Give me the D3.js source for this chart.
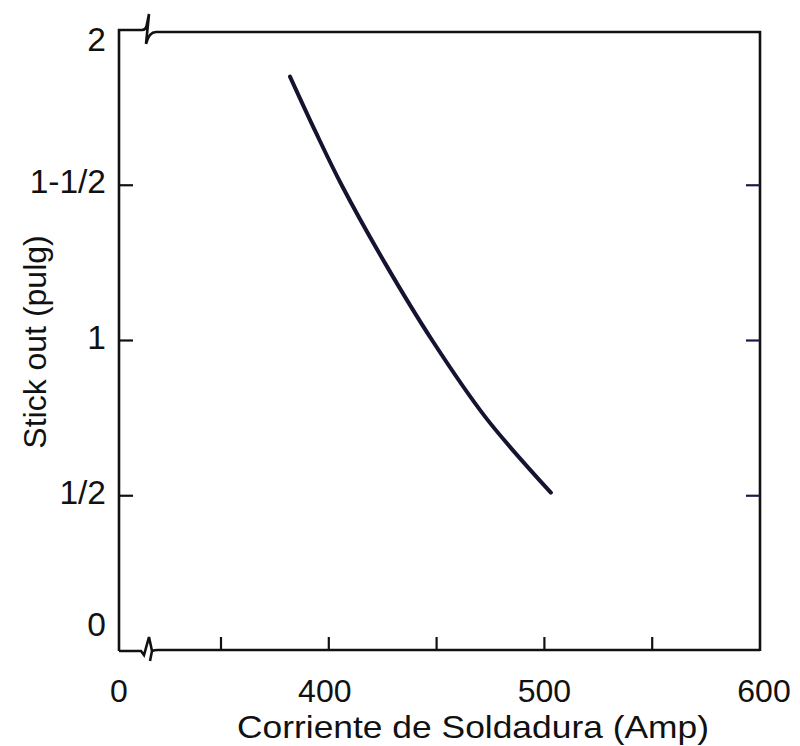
<!DOCTYPE html>
<html><head><meta charset="utf-8">
<script src="https://cdn.jsdelivr.net/npm/d3@7"></script>
<style>body{margin:0;background:#fff}svg{display:block}</style>
</head><body>
<svg id="c" width="800" height="746"></svg>
<script>
// Data
const curveAmp = [382, 394, 406, 426, 448, 473, 503];
const curveStick = [1.85, 1.67, 1.50, 1.25, 1.00, 0.75, 0.51];
const xTickVals = [350, 400, 450, 500, 550];
const xLabelVals = [0, 400, 500, 600];
const xLabelText = ["0", "400", "500", "600"];
const yTickVals = [0.5, 1, 1.5];
const yLabelVals = [0, 0.5, 1, 1.5, 2];
const yLabelText = ["0", "1/2", "1", "1-1/2", "2"];

const svg = d3.select("#c");
const L = 119, R = 760, T = 30, B = 651;
const x = d3.scaleLinear().domain([0, 350, 600]).range([L, 221, R]);
const y = d3.scaleLinear().domain([0, 2]).range([B, T]);
const ink = "#111";
const font = "Liberation Sans, Arial, sans-serif";

// frame with axis breaks
const bx = L + 27;
const g = svg.append("g").attr("fill", "none").attr("stroke", ink).attr("stroke-width", 2.6);
g.append("path").attr("d", `M${L},${B} L${L},${T} L${bx-4},${T} Q${bx},${T} ${bx+1},${T-6} L${bx+3},${T-16} L${bx},${T+14} Q${bx+3},${T+2} ${bx+10},${T+2} L${R},${T+2} L${R},${B}`);
g.append("path").attr("d", `M${L},${B} L${bx-5},${B} L${bx-2},${B+4} L${bx+3},${B-14} L${bx+6},${B} L${bx+4},${B+10} M${bx+6},${B} Q${bx+8},${B-1} ${bx+12},${B-1} L${R},${B-1}`);

// x ticks (inward)
svg.append("g").selectAll("line").data(xTickVals).join("line")
  .attr("x1", d => x(d)).attr("x2", d => x(d)).attr("y1", B).attr("y2", B - 14)
  .attr("stroke", ink).attr("stroke-width", 2.2);
// y ticks left & right
svg.append("g").selectAll("line").data(yTickVals).join("line")
  .attr("x1", L).attr("x2", L + 14).attr("y1", d => y(d)).attr("y2", d => y(d))
  .attr("stroke", ink).attr("stroke-width", 2.2);
svg.append("g").selectAll("line").data(yTickVals).join("line")
  .attr("x1", R).attr("x2", R - 14).attr("y1", d => y(d)).attr("y2", d => y(d))
  .attr("stroke", "#1a1a4a").attr("stroke-width", 2.2);

// labels
svg.append("g").selectAll("text").data(xLabelVals).join("text")
  .attr("x", d => x(d) + (d === 600 ? 4 : (d === 400 ? -4 : 0))).attr("y", 702).attr("text-anchor", "middle")
  .attr("font-family", font).attr("font-size", 32).attr("fill", ink)
  .text((d, i) => xLabelText[i]);
const yShift = v => v === 0 ? -26 : (v === 2 ? 10 : -3);
svg.append("g").selectAll("text").data(yLabelVals).join("text")
  .attr("x", 106).attr("y", d => y(d) + yShift(d) + 11).attr("text-anchor", "end")
  .attr("font-family", font).attr("font-size", 33.5).attr("fill", ink)
  .text((d, i) => yLabelText[i]);

svg.append("text").attr("x", 237).attr("y", 738)
  .attr("textLength", 472).attr("lengthAdjust", "spacingAndGlyphs")
  .attr("font-family", font).attr("font-size", 32).attr("fill", ink)
  .text("Corriente de Soldadura (Amp)");
svg.append("text").attr("transform", "translate(46,342) rotate(-90)").attr("text-anchor", "middle")
  .attr("font-family", font).attr("font-size", 32).attr("fill", ink)
  .text("Stick out (pulg)");

// curve
const line = d3.line().x((d, i) => x(curveAmp[i])).y(d => y(d)).curve(d3.curveCatmullRom);
svg.append("path").datum(curveStick).attr("d", line)
  .attr("fill", "none").attr("stroke", "#141430").attr("stroke-width", 4).attr("stroke-linecap", "round");
</script>
</body></html>
